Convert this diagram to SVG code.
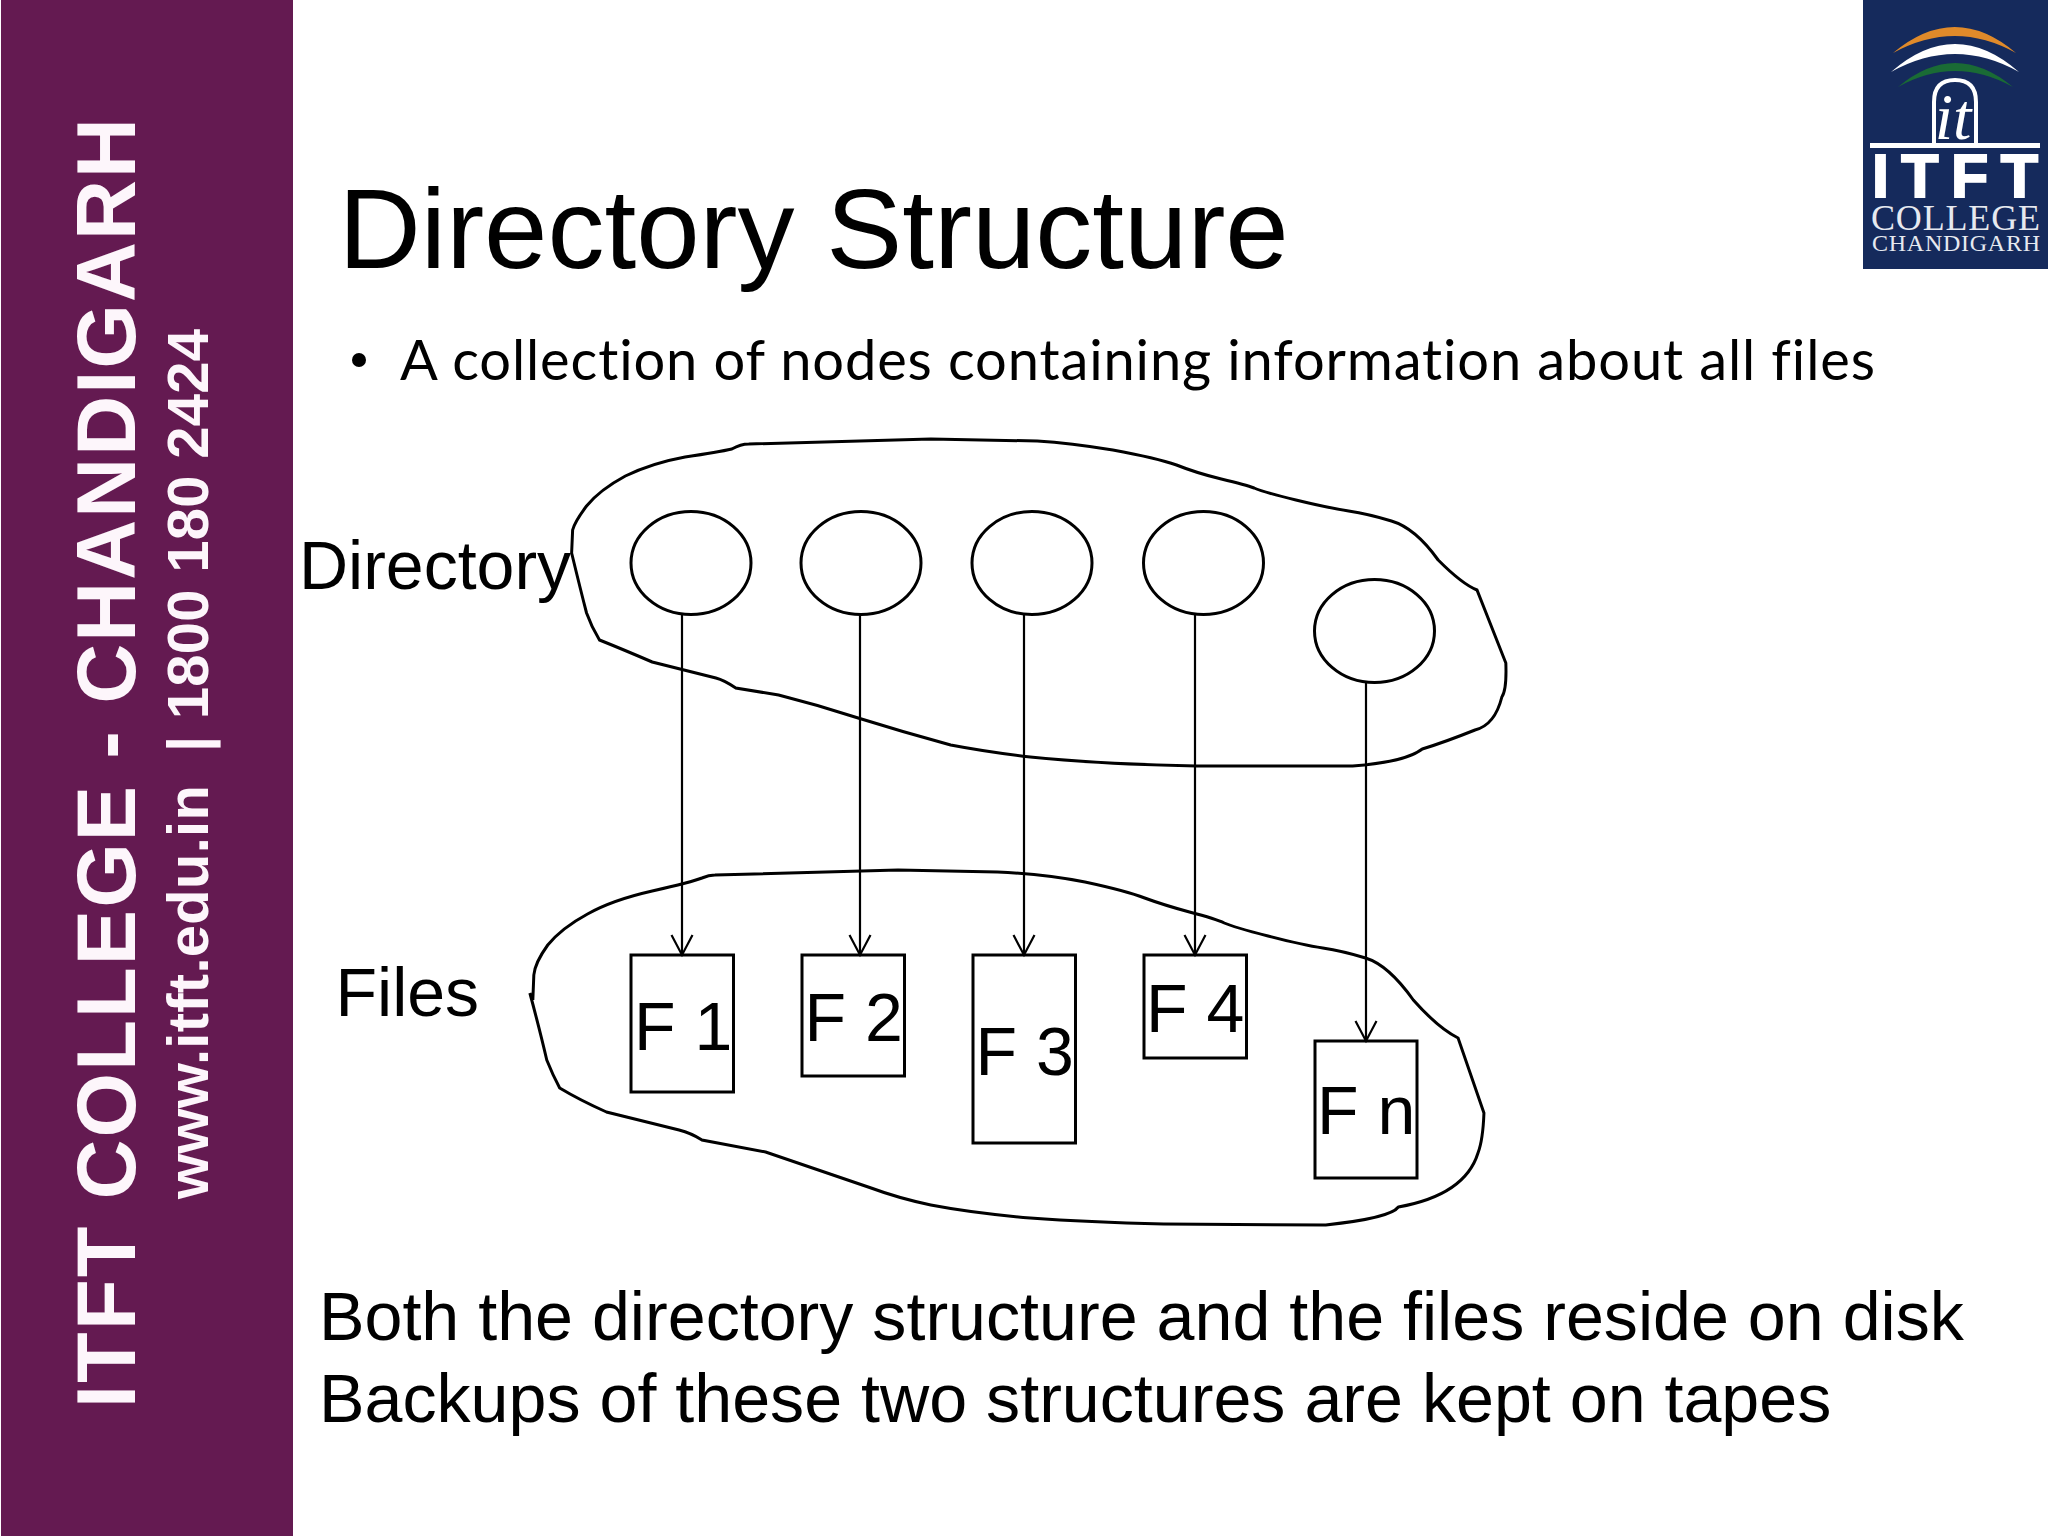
<svg xmlns="http://www.w3.org/2000/svg" width="2048" height="1536" viewBox="0 0 2048 1536">
<style>
.s{font-family:"Liberation Sans",Arial,sans-serif;fill:#000}
.lbl{font-size:68px}
.body{font-size:68.2px}
.shape{fill:none;stroke:#000;stroke-width:3}
.file{fill:#fff;stroke:#000;stroke-width:3}
.side{font-family:"Liberation Sans",Arial,sans-serif;font-weight:bold;fill:#fdf6fb}
.serif{font-family:"Liberation Serif","Times New Roman",serif;fill:#e6e9f0}
.conn{fill:none;stroke:#000;stroke-width:2.2}
</style>
<defs>
<marker id="arr" markerUnits="userSpaceOnUse" markerWidth="26" markerHeight="26" refX="22" refY="12" orient="auto">
<path d="M2 1.5L22 12L2 22.5" fill="none" stroke="#000" stroke-width="2.2"/>
</marker>
</defs>
<rect width="2048" height="1536" fill="#fff"/>
<g id="sidebar">
<rect x="1" y="0" width="292" height="1536" fill="#641a51"/>
<text class="side" transform="translate(135 1408) rotate(-90)" font-size="83" textLength="1290">ITFT COLLEGE - CHANDIGARH</text>
<text class="side" transform="translate(208 1199) rotate(-90)" font-size="58" textLength="870" xml:space="preserve">www.itft.edu.in  | 1800 180 2424</text>
</g>
<g id="logo">
<rect x="1863" y="0" width="185" height="269" fill="#152a5c"/>
<path d="M1893 53Q1955 1 2016 53Q1955 19 1893 53Z" fill="#e08a2a"/>
<path d="M1891 72Q1955 16 2019 72Q1955 36 1891 72Z" fill="#fff"/>
<path d="M1898 87Q1955 39 2013 87Q1955 55 1898 87Z" fill="#1a6b35"/>
<path d="M1934 143V102Q1934 80 1955 80Q1976 80 1976 102V143" fill="none" stroke="#fff" stroke-width="4"/>
<text x="1953" y="139" font-family="Liberation Serif,serif" font-style="italic" font-size="66" fill="#fff" text-anchor="middle">it</text>
<rect x="1870" y="143" width="170" height="5" fill="#fff"/>
<text x="1955" y="197" font-family="Liberation Sans,sans-serif" font-weight="bold" font-size="61" fill="#fff" text-anchor="middle" textLength="166" stroke="#fff" stroke-width="2">ITFT</text>
<text class="serif" x="1871" y="230" font-size="36" textLength="169">COLLEGE</text>
<text class="serif" x="1872" y="251" font-size="24" textLength="168">CHANDIGARH</text>
</g>
<g id="title"><text class="s" x="338.5" y="268" font-size="114">Directory Structure</text></g>
<g id="bullet">
<circle cx="359" cy="360" r="7" fill="#000"/>
<text x="400" y="380" font-family="Lato,sans-serif" font-size="56" textLength="1475" fill="#000" style="font-variant-ligatures:none">A collection of nodes containing information about all files</text>
</g>
<g id="directory-blob">
<path class="shape" transform="translate(2.555 0) scale(.99489 1)" d="M572 553L573 530Q575 522 587 506Q600 490 626 476Q653 463 686 457Q720 452 733 449Q742 444 750 444L933 439L1040 441Q1073 443 1116 450Q1160 458 1180 465Q1200 473 1225 479Q1250 485 1258 488Q1267 492 1300 500Q1333 508 1353 511Q1373 514 1396 521Q1420 528 1443 560Q1467 584 1482 590L1511 663Q1512 690 1507 697Q1500 725 1480 730Q1450 742 1427 749Q1410 762 1357 766L1200 766Q1100 764 1033 757Q990 752 953 745Q905 732 860 718Q820 705 780 695L737 688Q725 680 717 678Q685 670 653 662Q625 650 600 640Q592 627 587 613Q581 590 572 553Z"/>
<text class="s lbl" x="299" y="589">Directory</text>
</g>
<g id="files-blob">
<path class="shape" transform="translate(2.555 0) scale(.99489 1)" d="M533 1000L534 975Q535 963 548 945Q562 928 588 914Q613 900 653 891Q693 882 703 878Q710 875 716 875L900 870L1000 872Q1047 874 1088 882Q1130 891 1148 898Q1167 905 1193 912Q1220 919 1228 923Q1237 927 1272 936Q1307 945 1327 948Q1347 951 1370 958Q1393 965 1418 1000Q1443 1028 1463 1038L1489 1113Q1488 1140 1483 1153Q1470 1195 1403 1207Q1395 1218 1330 1225L1167 1224Q1090 1222 1033 1218Q975 1213 933 1205Q900 1198 873 1188Q820 1170 767 1152L703 1140Q692 1133 680 1130Q640 1120 607 1112Q580 1100 560 1088Q553 1075 547 1060Q540 1030 530 993"/>
<text class="s lbl" x="335.5" y="1016">Files</text>
</g>
<g id="dir-nodes" class="shape">
<ellipse id="d1" cx="691" cy="563" rx="60" ry="51.5"/>
<ellipse id="d2" cx="861" cy="563" rx="60" ry="51.5"/>
<ellipse id="d3" cx="1032" cy="563" rx="60" ry="51.5"/>
<ellipse id="d4" cx="1203.5" cy="563" rx="60" ry="51.5"/>
<ellipse id="d5" cx="1374.5" cy="631" rx="60" ry="51.5"/>
</g>
<g id="f1"><rect class="file" x="631" y="955" width="102.5" height="137"/><text class="s lbl" x="634" y="1050">F 1</text></g>
<g id="f2"><rect class="file" x="802" y="955" width="102.5" height="121"/><text class="s lbl" x="804.5" y="1041">F 2</text></g>
<g id="f3"><rect class="file" x="973" y="955" width="102.5" height="188"/><text class="s lbl" x="975.5" y="1075">F 3</text></g>
<g id="f4"><rect class="file" x="1144" y="955" width="102.5" height="103"/><text class="s lbl" x="1146" y="1032">F 4</text></g>
<g id="fn"><rect class="file" x="1315" y="1041" width="102" height="137"/><text class="s lbl" x="1317" y="1134">F n</text></g>
<g id="connectors">
<path class="conn" marker-end="url(#arr)" d="M682 614V955"/>
<path class="conn" marker-end="url(#arr)" d="M860 614V955"/>
<path class="conn" marker-end="url(#arr)" d="M1024 614V955"/>
<path class="conn" marker-end="url(#arr)" d="M1195 614V955"/>
<path class="conn" marker-end="url(#arr)" d="M1366 683V1041"/>
</g>
<g id="notes">
<text class="s body" x="319" y="1340">Both the directory structure and the files reside on disk</text>
<text class="s body" x="319" y="1422">Backups of these two structures are kept on tapes</text>
</g>
</svg>
